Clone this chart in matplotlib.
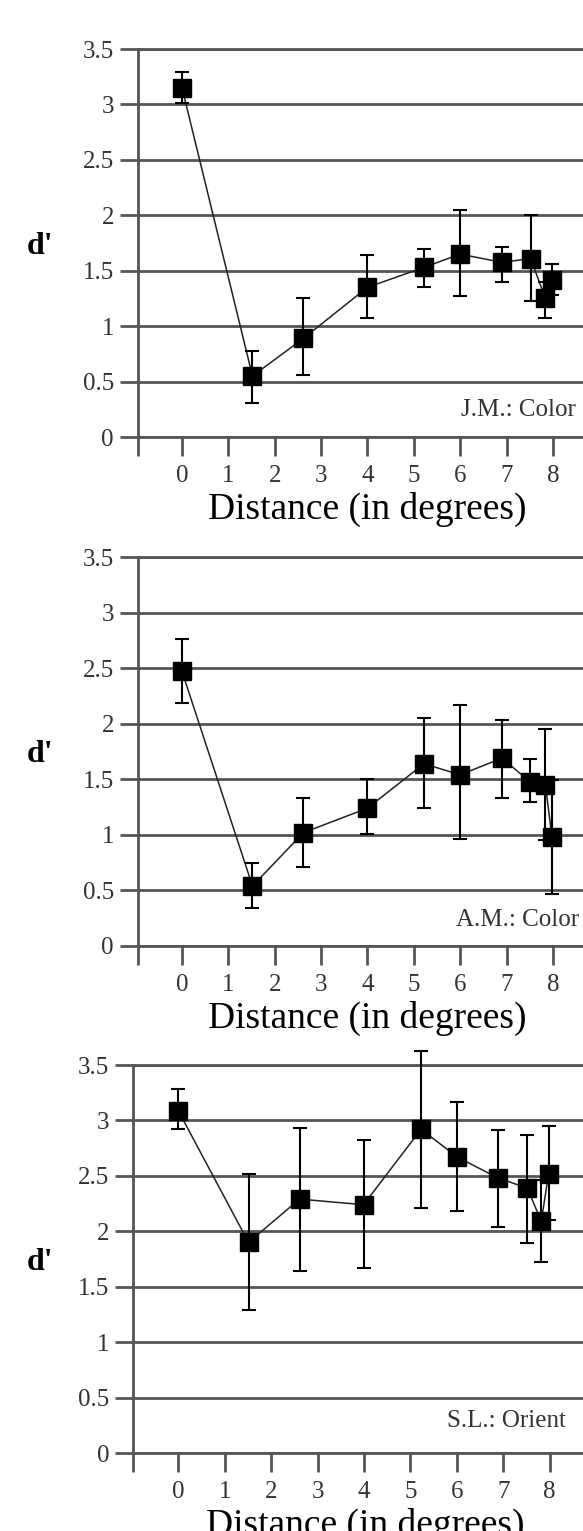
import matplotlib
matplotlib.use("Agg")
import matplotlib.pyplot as plt

plt.rcParams['font.family'] = ['Liberation Serif', 'DejaVu Serif']

# distance (deg), d', and error bar ends
jm_x = [0, 1.52, 2.62, 4.0, 5.22, 6.0, 6.9, 7.52, 7.84, 7.98]
jm_d = [3.15, 0.55, 0.89, 1.35, 1.53, 1.65, 1.575, 1.61, 1.25, 1.42]
jm_top = [3.29, 0.78, 1.25, 1.64, 1.70, 2.05, 1.71, 2.00, 1.40, 1.56]
jm_bot = [3.01, 0.31, 0.56, 1.07, 1.35, 1.27, 1.40, 1.23, 1.07, 1.28]

am_x = [0, 1.52, 2.62, 4.0, 5.22, 6.0, 6.9, 7.5, 7.84, 7.98]
am_d = [2.47, 0.54, 1.02, 1.24, 1.64, 1.54, 1.69, 1.48, 1.45, 0.98]
am_top = [2.76, 0.75, 1.33, 1.50, 2.05, 2.17, 2.03, 1.68, 1.95, 1.49]
am_bot = [2.19, 0.34, 0.71, 1.01, 1.24, 0.96, 1.33, 1.30, 0.95, 0.47]

sl_x = [0, 1.51, 2.61, 3.99, 5.23, 6.01, 6.89, 7.52, 7.82, 7.98]
sl_d = [3.085, 1.90, 2.29, 2.24, 2.92, 2.67, 2.48, 2.39, 2.09, 2.52]
sl_top = [3.28, 2.52, 2.93, 2.82, 3.63, 3.17, 2.91, 2.87, 2.46, 2.95]
sl_bot = [2.92, 1.29, 1.64, 1.67, 2.21, 2.18, 2.04, 1.89, 1.72, 2.10]

labels = ["J.M.: Color", "A.M.: Color", "S.L.: Orient"]
label_x = [6.01, 5.9, 5.79]
label_y = [0.24, 0.23, 0.29]

yticks = [0, 0.5, 1, 1.5, 2, 2.5, 3, 3.5]
ytick_labels = ["0", "0.5", "1", "1.5", "2", "2.5", "3", "3.5"]
xticks = [0, 1, 2, 3, 4, 5, 6, 7, 8]

W, H = 583, 1531
fig = plt.figure(figsize=(W / 100, H / 100), dpi=100)

# pixel boxes: left, top, bottom, xmin, xmax
boxes = [
    (137.5, 49, 437, -0.96, 8.65),
    (137.5, 557, 946, -0.96, 8.65),
    (133, 1065, 1453, -0.98, 8.72),
]
series = [
    (jm_x, jm_d, jm_top, jm_bot),
    (am_x, am_d, am_top, am_bot),
    (sl_x, sl_d, sl_top, sl_bot),
]

grid_c = "#555555"
text_c = "#333333"

for i in range(3):
    left, top, bot, xmin, xmax = boxes[i]
    x, d, t, b = series[i]
    ax = fig.add_axes([left / W, 1 - bot / H, (W - left) / W, (bot - top) / H])
    ax.set_xlim(xmin, xmax)
    ax.set_ylim(0, 3.5)

    for s in ["left", "bottom", "top"]:
        ax.spines[s].set_color(grid_c)
        ax.spines[s].set_linewidth(2)
    ax.spines["right"].set_visible(False)

    ax.set_yticks(yticks)
    ax.set_yticklabels(ytick_labels)
    ax.set_xticks(xticks)
    ax.set_xticks([xmin], minor=True)
    ax.tick_params(axis="y", direction="out", length=13, width=2, color=grid_c,
                   pad=4, labelsize=18, labelcolor=text_c)
    ax.tick_params(axis="x", which="both", direction="out", length=14, width=2,
                   color=grid_c, pad=6, labelsize=18, labelcolor=text_c)
    ax.grid(axis="y", color=grid_c, lw=2)
    ax.set_axisbelow(True)

    lo = [d[k] - b[k] for k in range(len(d))]
    hi = [t[k] - d[k] for k in range(len(d))]
    ax.plot(x, d, color="#222222", lw=1.1, zorder=3)
    eb = ax.errorbar(x, d, yerr=[lo, hi], fmt="none", ecolor="black",
                     elinewidth=1.5, capsize=5, capthick=1.5, zorder=3)
    for art in eb.lines[1] + eb.lines[2]:
        art.set_clip_on(False)
    ax.plot(x, d, "s", color="black", ms=12.5, zorder=4)

    ax.text(label_x[i], label_y[i], labels[i], fontsize=18, color=text_c,
            ha="left", va="center", clip_on=False)

    ax.annotate("d'", xy=(0, 1.72), xycoords=ax.get_yaxis_transform(),
                xytext=(-(left - 40), 0), textcoords="offset pixels",
                ha="center", va="center", fontsize=23, fontweight="bold")
    ax.annotate("Distance (in degrees)", xy=(0.515, 0), xycoords="axes fraction",
                xytext=(0, -82), textcoords="offset pixels",
                ha="center", va="baseline", fontsize=27)

fig.savefig("out.png", dpi=100)
